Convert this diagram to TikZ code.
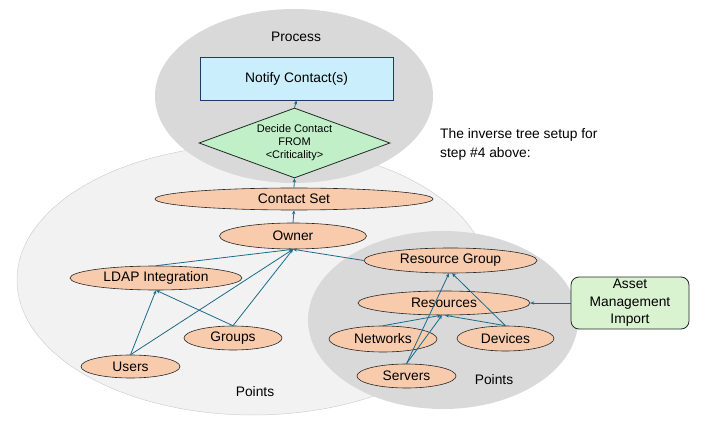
\documentclass[tikz,border=0pt]{standalone}
\usepackage{fontspec}
\setmainfont{Liberation Sans}
\usetikzlibrary{shapes.geometric,arrows.meta}
\definecolor{salmon}{HTML}{F8CBAD}
\definecolor{procgray}{HTML}{D9D9D9}
\definecolor{ptsgray}{HTML}{F2F2F2}
\definecolor{ptsedge}{HTML}{D0D0D0}
\definecolor{notifyblue}{HTML}{CAEEFB}
\definecolor{navy}{HTML}{1F3864}
\definecolor{decgreen}{HTML}{C1F0C8}
\definecolor{assetgreen}{HTML}{D9F2D0}
\definecolor{darkedge}{HTML}{1E2A24}
\definecolor{arrteal}{HTML}{1A6B8A}
\tikzset{
  pnode/.style={ellipse, draw=black!85, fill=salmon, line width=0.6pt, inner sep=0pt,
    font=\fontsize{13.8}{16}\selectfont},
  lbl/.style={font=\fontsize{13.8}{16}\selectfont, inner sep=0pt},
  arr/.style={draw=arrteal, line width=0.8pt, -{Stealth[length=4pt,width=3.4pt]}},
}
\begin{document}
\begin{tikzpicture}[x=1pt,y=-1pt]
\useasboundingbox (0,0) rectangle (720,422);
% background regions
\filldraw[fill=ptsgray, draw=ptsedge, line width=0.5pt] (253,280) ellipse [x radius=236, y radius=135];
\fill[procgray] (294,96) ellipse [x radius=139, y radius=87];
\fill[procgray] (443,320) ellipse [x radius=135, y radius=89];
% labels
\node[lbl] (proc) at (296,37) {Process};
\node[lbl] (ptsL) at (255,392) {Points};
\node[lbl] (ptsR) at (494,380) {Points};
\node[lbl, anchor=north west, align=left, font=\fontsize{13.8}{19.5}\selectfont] (note) at (440,128) {The inverse tree setup for\\step \#4 above:};
% process nodes
\node[rectangle, draw=navy, fill=notifyblue, line width=0.8pt, minimum width=193pt, minimum height=43pt,
  inner sep=0pt, font=\fontsize{13.8}{16}\selectfont] (notify) at (296.5,78.5) {Notify Contact(s)};
\node[diamond, draw=darkedge, fill=decgreen, line width=0.8pt, aspect=2.7, minimum width=191pt,
  minimum height=70pt, inner sep=0pt, align=center, font=\fontsize{11}{13}\selectfont] (decide) at (294.5,143)
  {Decide Contact\\FROM\\<Criticality>};
% points nodes
\node[pnode, minimum width=278pt, minimum height=22pt] (cset) at (294,199) {Contact Set};
\node[pnode, minimum width=147pt, minimum height=26pt] (owner) at (293,236) {Owner};
\node[pnode, minimum width=172pt, minimum height=24pt] (ldap) at (156,278) {LDAP Integration};
\node[pnode, minimum width=98pt, minimum height=24pt] (groups) at (233,338) {Groups};
\node[pnode, minimum width=99pt, minimum height=23pt] (users) at (130.5,366.5) {Users};
\node[pnode, minimum width=173pt, minimum height=25pt] (rgroup) at (450.5,260.5) {Resource Group};
\node[pnode, minimum width=172pt, minimum height=24pt] (res) at (444,303) {Resources};
\node[pnode, minimum width=108pt, minimum height=26pt] (net) at (383,339) {Networks};
\node[pnode, minimum width=97pt, minimum height=25pt] (dev) at (505.5,338.5) {Devices};
\node[pnode, minimum width=99pt, minimum height=24pt] (serv) at (406.5,376) {Servers};
\node[rectangle, rounded corners=8pt, draw=darkedge, fill=assetgreen, line width=0.8pt,
  minimum width=118pt, minimum height=52pt, inner sep=0pt, align=center,
  font=\fontsize{13.8}{17.5}\selectfont] (asset) at (630,303) {Asset\\Management\\Import};
% connectors
\draw[arr] (decide.north) -- (notify.south);
\draw[arr] (cset.north) -- (decide.south);
\draw[arr] (owner.north) -- (cset.south);
\draw[arr] (ldap.north) -- (owner.south);
\draw[arr] (users.north) -- (ldap.south);
\draw[arr] (users.north) -- (owner.south);
\draw[arr] (groups.north) -- (ldap.south);
\draw[arr] (groups.north) -- (owner.south);
\draw[arr] (rgroup.west) -- (owner.south);
\draw[arr] (net.north) -- ([xshift=-3pt]res.south);
\draw[arr] (dev.north) -- ([xshift=1pt]res.south);
\draw[arr] (serv.north) -- ([xshift=-2pt]res.south);
\draw[arr] (serv.north) -- ([xshift=-1.5pt]rgroup.south);
\draw[arr] (dev.north) -- ([xshift=1.5pt]rgroup.south);
\draw[arr] (asset.west) -- (res.east);
\end{tikzpicture}
\end{document}
